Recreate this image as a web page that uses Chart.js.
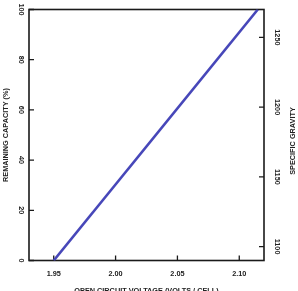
<!DOCTYPE html>
<html>
<head>
<meta charset="utf-8">
<script src="https://cdn.jsdelivr.net/npm/chart.js@4/dist/chart.umd.min.js"></script>
<style>
  html, body { margin: 0; padding: 0; background: #ffffff; }
  canvas { display: block; }
</style>
</head>
<body>
<canvas id="c" width="298" height="291"></canvas>
<script>
// ---- data ----
const voltage = [1.95, 2.115];          // open circuit voltage (V / cell)
const capacity = [0, 100];              // remaining capacity (%)
const xTicks = [1.95, 2.00, 2.05, 2.10];
const capTicks = [0, 20, 40, 60, 80, 100];
const sgTicks = [1100, 1150, 1200, 1250];
const xTitle = 'OPEN CIRCUIT VOLTAGE (VOLTS / CELL)';
const yTitle = 'REMAINING CAPACITY (%)';
const y2Title = 'SPECIFIC GRAVITY';

const FONT = "'Liberation Sans', Arial, sans-serif";
const font = { family: FONT, size: 7.3, weight: 'bold' };
const TXT = '#222222';

const points = voltage.map((v, i) => ({ x: v, y: capacity[i] }));

const frameTicks = {
  id: 'frameTicks',
  beforeDatasetsDraw(chart) {
    const { ctx, chartArea: a, scales } = chart;
    ctx.save();
    ctx.strokeStyle = '#1a1a1a';
    ctx.lineWidth = 1.6;
    ctx.strokeRect(a.left, a.top, a.right - a.left, a.bottom - a.top);
    ctx.lineWidth = 1.3;
    ctx.beginPath();
    scales.x.ticks.forEach(t => {
      const px = scales.x.getPixelForValue(t.value);
      ctx.moveTo(px, a.bottom); ctx.lineTo(px, a.bottom - 5);
    });
    scales.y.ticks.forEach(t => {
      const py = scales.y.getPixelForValue(t.value);
      ctx.moveTo(a.left, py); ctx.lineTo(a.left + 5, py);
    });
    scales.y2.ticks.forEach(t => {
      const py = scales.y2.getPixelForValue(t.value);
      ctx.moveTo(a.right, py); ctx.lineTo(a.right - 5, py);
    });
    ctx.stroke();
    ctx.restore();
  },
  afterDraw(chart) {
    const { ctx, chartArea: a, scales } = chart;
    const s = scales.y2;
    ctx.save();
    ctx.fillStyle = TXT;
    ctx.font = `bold ${font.size}px ${FONT}`;
    ctx.textAlign = 'center';
    ctx.textBaseline = 'middle';
    ctx.translate(s.right - 5.5, (a.top + a.bottom) / 2 + 6);
    ctx.rotate(-Math.PI / 2);
    ctx.fillText(y2Title, 0, 0);
    ctx.restore();
  }
};

new Chart(document.getElementById('c'), {
  type: 'scatter',
  data: {
    datasets: [{
      data: points,
      showLine: true,
      borderColor: '#4747b9',
      backgroundColor: '#4747b9',
      borderWidth: 2.6,
      pointRadius: 0,
      tension: 0,
      yAxisID: 'y'
    }]
  },
  options: {
    responsive: false,
    animation: false,
    devicePixelRatio: 1,
    layout: { padding: { top: 9.5, left: 0, right: 0, bottom: 0 } },
    plugins: { legend: { display: false }, tooltip: { enabled: false } },
    scales: {
      x: {
        type: 'linear',
        position: 'bottom',
        min: 1.93,
        max: 2.12,
        afterBuildTicks: s => { s.ticks = xTicks.map(v => ({ value: v })); },
        afterFit: s => { s.height = 30.5; },
        grid: { display: false, drawTicks: false },
        border: { display: false },
        ticks: {
          font, color: TXT, padding: 9.2, maxRotation: 0, autoSkip: false,
          callback: v => Number(v).toFixed(2)
        },
        title: { display: true, text: xTitle, font, color: TXT, padding: { top: 0, bottom: -3.9 } }
      },
      y: {
        type: 'linear',
        position: 'left',
        min: 0,
        max: 100,
        afterBuildTicks: s => { s.ticks = capTicks.map(v => ({ value: v })); },
        afterFit: s => { s.width = 29; },
        grid: { display: false, drawTicks: false },
        border: { display: false },
        ticks: {
          font, color: TXT, padding: 1.9, minRotation: -90, maxRotation: -90,
          crossAlign: 'center', autoSkip: false,
          callback: v => String(v)
        },
        title: { display: true, text: yTitle, font, color: TXT, padding: { top: 1.6, bottom: 0 } }
      },
      y2: {
        type: 'linear',
        position: 'right',
        min: 1090,
        max: 1270,
        afterBuildTicks: s => { s.ticks = sgTicks.map(v => ({ value: v })); },
        afterFit: s => { s.width = 34; },
        grid: { display: false, drawTicks: false },
        border: { display: false },
        ticks: {
          font, color: TXT, padding: 4.9, minRotation: -90, maxRotation: -90,
          crossAlign: 'center', autoSkip: false,
          callback: v => String(v)
        },
        title: { display: false }
      }
    }
  },
  plugins: [frameTicks]
});
</script>
</body>
</html>
